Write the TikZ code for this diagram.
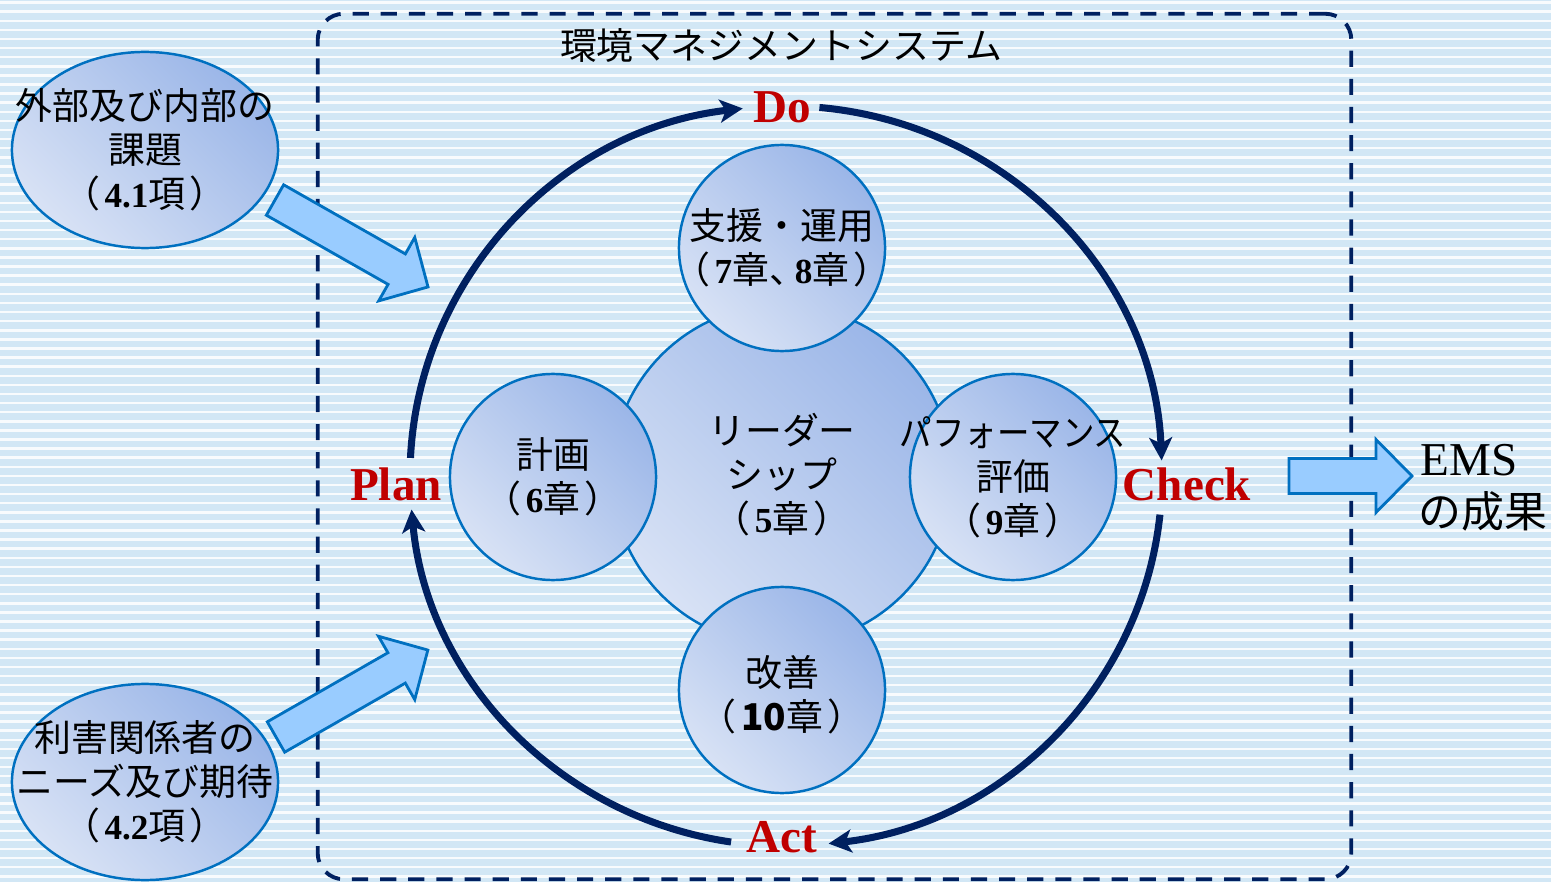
\documentclass[tikz,border=0pt]{standalone}
\usepackage{fontspec}
\setmainfont{Liberation Serif}
\newfontfamily\jp{Noto Sans CJK JP}
\usetikzlibrary{arrows.meta,shapes.geometric}
\definecolor{navy}{HTML}{002060}
\definecolor{pdred}{HTML}{C00000}
\definecolor{edge}{HTML}{0070C0}
\definecolor{afill}{HTML}{99CCFF}
\definecolor{bgblue}{HTML}{D2E7F5}
\definecolor{cdark}{HTML}{9BB6E8}
\definecolor{clight}{HTML}{D8E2F5}
\newcommand\nd[1]{{\rmfamily\bfseries\fontsize{10}{12.5}\selectfont #1}}
\newcommand\lp{（\kern0.12em}
\newcommand\rp{\kern0.12em）}
\begin{document}
\begin{tikzpicture}[x=0.01cm, y=-0.01cm,
  bubble/.style={draw=edge, line width=0.7pt, top color=cdark, bottom color=clight, shading angle=-45, inner sep=0pt},
  smallc/.style={bubble, circle, minimum size=2.06cm},
  bigc/.style={bubble, circle, minimum size=3.4cm},
  oval/.style={bubble, ellipse, minimum width=2.66cm, minimum height=1.96cm},
  jtxt/.style={font=\jp\fontsize{10.5}{12.5}\selectfont, align=center, inner sep=0pt},
  pdca/.style={font=\bfseries\fontsize{13.4}{16}\selectfont, text=pdred, inner sep=0pt},
  cyc/.style={draw=navy, line width=2pt, -{Stealth[length=0.23cm, width=0.23cm, inset=0.06cm]}},
  sysbox/.style={draw=navy, line width=1.1pt, dash pattern=on 4.6pt off 3.4pt, rounded corners=0.26cm, inner sep=0pt},
  blockarr/.style={draw=edge, fill=afill, line width=0.8pt, line join=miter},
  pics/barrow/.style={code={\draw[blockarr] (0,-17.5) -- ({#1-36},-17.5) -- ({#1-36},-36.5) -- (#1,0) -- ({#1-36},36.5) -- ({#1-36},17.5) -- (0,17.5) -- cycle;}}
]
\useasboundingbox (0,0) rectangle (1551,882);
% background stripes
\fill[bgblue] (0,0) rectangle (1551,882);
\foreach \i in {0,...,97} \fill[white!85!bgblue] (0,{1.4+\i*9.1}) rectangle (1551,{3.9+\i*9.1});

% system frame
\node[sysbox, minimum width=10.33cm, minimum height=8.65cm] (sys) at (834.5,446.5) {};
\node[jtxt] (title) at (781,45) {環境マネジメントシステム};

% PDCA cycle
\node[pdca] (P) at (396,484) {Plan};
\node[pdca] (D) at (782,107) {Do};
\node[pdca] (C) at (1187,484) {Check};
\node[pdca] (A) at (782,837) {Act};
\coordinate (s1) at ({786+376*cos(-177.2)},{476+370*sin(-177.2)});
\coordinate (s2) at ({786+376*cos(-84.9)},{476+370*sin(-84.9)});
\coordinate (s3) at ({786+376*cos(6.0)},{476+370*sin(6.0)});
\coordinate (s4) at ({786+376*cos(98.4)},{476+370*sin(98.4)});
\draw[cyc] (s1) arc[start angle=-177.2, end angle=-96.6, x radius=376, y radius=370];
\draw[cyc] (s2) arc[start angle=-84.9, end angle=-2.4, x radius=376, y radius=370];
\draw[cyc] (s3) arc[start angle=6.0, end angle=83.5, x radius=376, y radius=370];
\draw[cyc] (s4) arc[start angle=98.4, end angle=174.8, x radius=376, y radius=370];

% block arrows
\pic[rotate=-29.6] (arrA) at (275,200) {barrow=176};
\pic[rotate=29.8] (arrB) at (276,737) {barrow=175};
\pic (arrC) at (1289,476) {barrow=123};

% circles
\node[bigc] (lead) at (782,475) {};
\node[smallc] (supp) at (782,248) {};
\node[smallc] (plan) at (553,477) {};
\node[smallc] (eval) at (1013,477) {};
\node[smallc] (impr) at (782,690) {};
\node[jtxt] (leadT) at (lead) {リーダー\\シップ\\\lp\nd{5}章\rp};
\node[jtxt] (suppT) at (supp) {支援・運用\\\lp\nd{7}章、\kern-0.3em\nd{8}章\rp};
\node[jtxt] (planT) at (plan) {計画\\\lp\nd{6}章\rp};
\node[jtxt] (evalT) at (eval) {\scalebox{0.88}[1]{パフォーマンス}\\評価\\\lp\nd{9}章\rp};
\node[jtxt] (imprT) at (impr.center) [yshift=-0.05cm] {改善\\\lp{\bfseries 10}章\rp};

% ellipses
\node[oval] (ext) at (145,150) {};
\node[oval] (int) at (145,782) {};
\node[jtxt] (extT) at (ext) {外部及び内部の\\課題\\\lp\nd{4.1}項\rp};
\node[jtxt] (intT) at (int) {利害関係者の\\ニーズ及び期待\\\lp\nd{4.2}項\rp};

% result
\node[anchor=west, font=\fontsize{13.4}{16}\selectfont, inner sep=0pt] (ems) at (1420,460) {EMS};
\node[anchor=west, font=\jp\fontsize{12.2}{14}\selectfont, inner sep=0pt] (emsT) at (1418,511) {の成果};
\end{tikzpicture}
\end{document}
